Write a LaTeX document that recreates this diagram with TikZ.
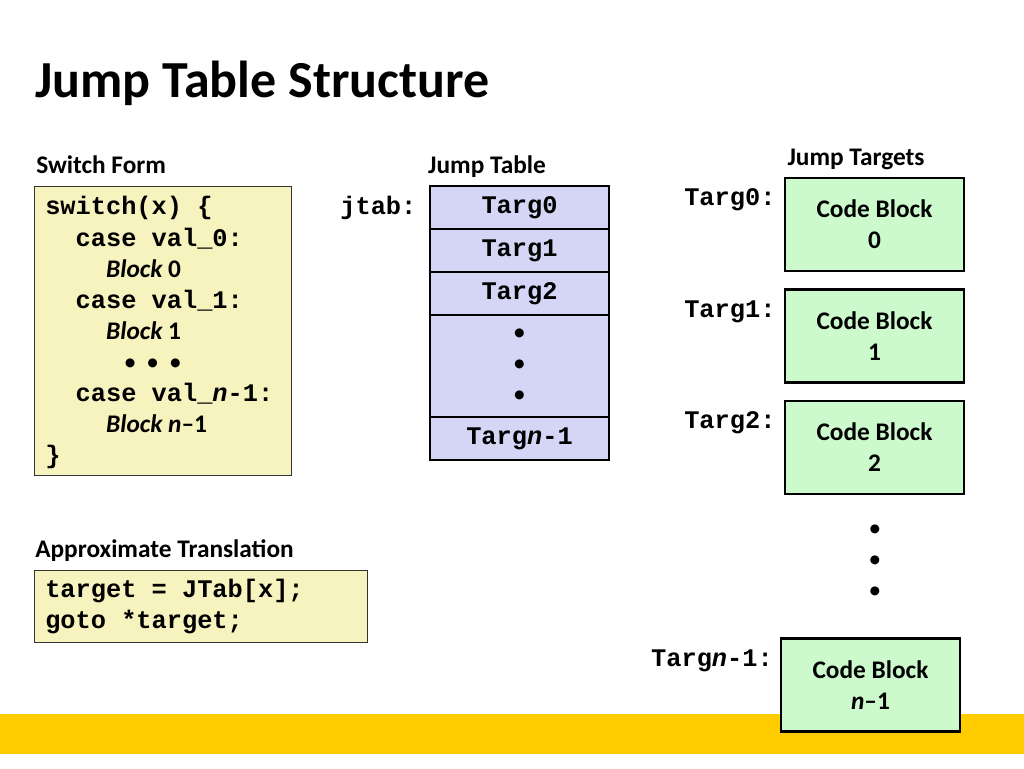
\documentclass[tikz,border=0pt]{standalone}
\usepackage{fontspec}
\setmainfont{Carlito}
\setmonofont{Liberation Mono}
\usepackage{tikz}
\usetikzlibrary{positioning}

\definecolor{codeyellow}{RGB}{247,243,190}
\definecolor{tablelav}{RGB}{213,213,245}
\definecolor{blockgreen}{RGB}{204,250,204}
\definecolor{baryellow}{RGB}{255,204,0}

\newcommand{\codefont}{\ttfamily\bfseries\fontsize{19}{23.3}\selectfont}
\newcommand{\blk}[1]{{\normalfont\bfseries\itshape Block }{\normalfont\bfseries #1}}
\newcommand{\bul}{\makebox[0pt]{\normalfont\textbullet}}

\tikzset{
    heading/.style={font=\bfseries\fontsize{19}{22}\selectfont, inner sep=0pt},
    addr/.style={font=\ttfamily\bfseries\fontsize{19}{23}\selectfont, inner sep=0pt},
    codebox/.style={draw=black!80, line width=0.8pt, fill=codeyellow, anchor=north west},
    codetext/.style={font=\codefont, inner sep=0pt, anchor=west},
    tabrow/.style={draw, line width=2pt, fill=tablelav, minimum width=134.25pt,
        minimum height=32.25pt, outer sep=0pt, inner sep=0pt,
        font=\ttfamily\bfseries\fontsize{19}{23}\selectfont},
    codeblk/.style={draw, line width=1.9pt, fill=blockgreen, minimum width=134.25pt,
        minimum height=69.75pt, align=center, inner sep=0pt,
        font=\bfseries\fontsize{19}{23.25}\selectfont},
    vdots/.style={align=center, inner sep=0pt, font=\fontsize{19}{23.25}\selectfont}
}

\begin{document}
\begin{tikzpicture}[x=0.75pt, y=-0.75pt]
    \useasboundingbox (0,0) rectangle (1024,768);
    \fill[white] (0,0) rectangle (1024,768);
    \fill[baryellow] (0,714) rectangle (1024,754);

    \node[anchor=base west, inner sep=0pt, font=\bfseries\fontsize{39}{46}\selectfont]
        (title) at (35,97) {Jump Table Structure};

    % switch form
    \node[heading, anchor=base west] (swlabel) at (36,173) {Switch Form};
    \node[codebox, minimum width=192.75pt, minimum height=216.75pt] (switch) at (34,186) {};
    \node[codetext, right=8.25pt of switch.west, yshift=-1.5pt] (swcode) {%
        \begin{tabular}{@{}l@{}}
        switch(x) \{\\
        \hspace*{1.2em}case val\_0:\\
        \hspace*{2.4em}\blk{0}\\
        \hspace*{1.2em}case val\_1:\\
        \hspace*{2.4em}\blk{1}\\
        \hspace*{63.75pt}\bul\hspace{16.9pt}\bul\hspace{16.9pt}\bul\\
        \hspace*{1.2em}case val\_\textit{n}-1:\\
        \hspace*{2.4em}{\normalfont\bfseries\itshape Block n}{\normalfont\bfseries --1}\\
        \}
        \end{tabular}};

    % translation
    \node[heading, anchor=base west] (trlabel) at (35,557) {Approximate Translation};
    \node[codebox, minimum width=249.75pt, minimum height=54pt] (transl) at (34,570) {};
    \node[codetext, right=8.25pt of transl.west] (trcode) {%
        \begin{tabular}{@{}l@{}}
        target = JTab[x];\\
        goto *target;
        \end{tabular}};

    % jump table
    \node[heading, anchor=base] (jtlabel) at (487,173) {Jump Table};
    \node[tabrow] (t0) at (519.5,207.5) {Targ0};
    \node[tabrow, below=0pt of t0] (t1) {Targ1};
    \node[tabrow, below=0pt of t1] (t2) {Targ2};
    \node[tabrow, below=0pt of t2, minimum height=76.5pt, align=center,
        font=\fontsize{19}{23.25}\selectfont] (tdots) {\textbullet\\\textbullet\\\textbullet};
    \node[tabrow, below=0pt of tdots] (tn) {Targ\textit{n}-1};
    \node[addr, left=10pt of t0] (jtab) {jtab:};

    % jump targets
    \node[heading, anchor=base] (tglabel) at (856,165) {Jump Targets};
    \node[codeblk] (b0) at (874.5,224.5) {Code Block\\0};
    \node[codeblk, below=12pt of b0] (b1) {Code Block\\1};
    \node[codeblk, below=12pt of b1] (b2) {Code Block\\2};
    \node[vdots] (bdots) at (875,562) {\textbullet\\\textbullet\\\textbullet};
    \node[codeblk] (bn) at (870.5,685) {Code Block\\\textit{n}--1};

    \node[addr, anchor=base east] (l0) at ([xshift=-6pt, yshift=-21.75pt]b0.north west) {Targ0:};
    \node[addr, anchor=base east] (l1) at ([xshift=-6pt, yshift=-21.75pt]b1.north west) {Targ1:};
    \node[addr, anchor=base east] (l2) at ([xshift=-6pt, yshift=-21.75pt]b2.north west) {Targ2:};
    \node[addr, anchor=base east] (ln) at ([xshift=-5pt, yshift=-21.75pt]bn.north west) {Targ\textit{n}-1:};
\end{tikzpicture}
\end{document}
